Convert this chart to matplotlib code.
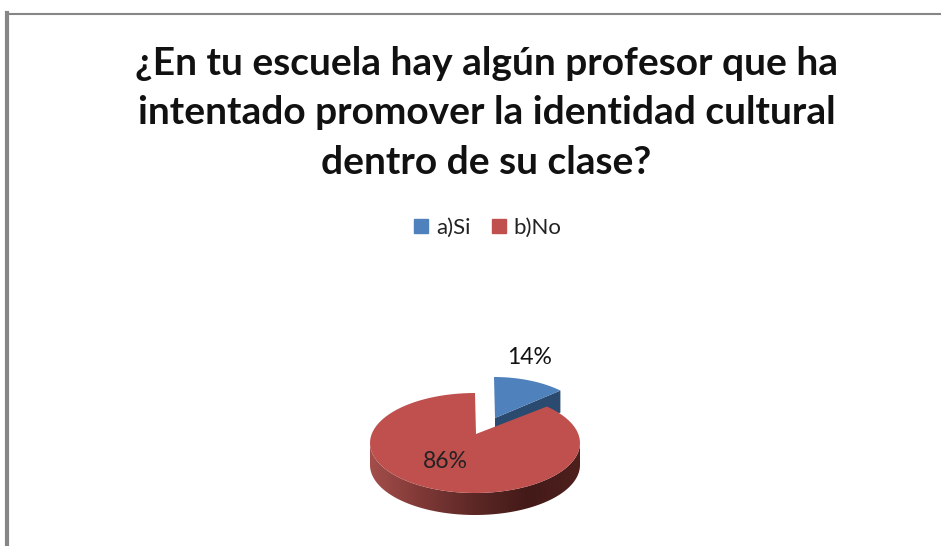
#!/usr/bin/env python3

import numpy as np
import matplotlib
matplotlib.use("Agg")
import matplotlib.pyplot as plt
from matplotlib.colors import LinearSegmentedColormap
from matplotlib.patches import Patch, Polygon

title = "¿En tu escuela hay algún profesor que ha\nintentado promover la identidad cultural\ndentro de su clase?"
categories = ["a)Si", "b)No"]
labels = ["14%", "86%"]
# share of the circle as the slices are actually drawn in the picture
drawn_share = [12, 88]
colors = ["#4f81bd", "#c0504d"]
blue_side = "#2b4a70"
red_side = ["#a34e4b", "#7e3836", "#5c2826", "#431a18", "#4e201d"]
border = "#868686"
font = "Lato"

#pixel helpers, ellipse of the pie top
cx, cy, rx, ry = 475, 443, 105, 50
apex = (476, 434)
depth = 22
blue_shift = (19, -16)
blue_rx = 97


def rim(a0, a1, x0=cx, y0=cy, w=rx):
    a = np.radians(np.linspace(a0, a1, 100))
    return np.column_stack([x0 + w * np.cos(a), y0 - ry * np.sin(a)])


fig = plt.figure(figsize=(9.41, 5.46), dpi=100)
ax = fig.add_axes([0, 0, 1, 1])
ax.set_xlim(0, 941)
ax.set_ylim(546, 0)
ax.axis("off")

# chart frame
ax.plot([7.5, 941], [13.5, 13.5], color=border, lw=1.5)
ax.plot([7.5, 7.5], [13, 546], color=border, lw=3)

ax.text(486.5, 113, title, ha="center", va="center", fontsize=28, fontweight="bold",
        family=font, color="#111111", linespacing=1.49)

angle = 360 * drawn_share[0] / sum(drawn_share)
end = 90 - angle

# blue slice, pulled out of the pie
bx, by = cx + blue_shift[0], cy + blue_shift[1]
b_apex = (apex[0] + blue_shift[0], apex[1] + blue_shift[1])
b_edge = rim(90, end, bx, by, blue_rx)
ax.add_patch(Polygon([b_apex, b_edge[-1], b_edge[-1] + [0, depth], [b_apex[0], b_apex[1] + depth]],
                     color=blue_side, lw=0))
ax.add_patch(Polygon(np.vstack([[b_apex], b_edge]), color=colors[0], lw=0))

# red slice side wall with a left to right gradient
front = rim(180, 360)
wall = np.vstack([front, front[::-1] + [0, depth]])
cmap = LinearSegmentedColormap.from_list("side", red_side)
im = ax.imshow(np.linspace(0, 1, 256)[None, :], cmap=cmap, aspect="auto",
               extent=[cx - rx, cx + rx, 546, 0], zorder=2)
clip = Polygon(wall, transform=ax.transData, fc="none", lw=0)
ax.add_patch(clip)
im.set_clip_path(clip)
ax.set_xlim(0, 941)
ax.set_ylim(546, 0)

# red slice top
r_edge = rim(end, end - 360 + angle)
ax.add_patch(Polygon(np.vstack([[apex], r_edge]), color=colors[1], lw=0, zorder=3))

ax.text(530, 358, labels[0], ha="center", va="center", fontsize=16.5, family=font, color="#111111", zorder=4)
ax.text(445, 461, labels[1], ha="center", va="center", fontsize=16.5, family=font, color="#222222", zorder=4)

handles = [Patch(color=c) for c in colors]
ax.legend(handles, categories, ncol=2, loc="center", bbox_to_anchor=(488 / 941, 1 - 228 / 546),
          frameon=False, prop={"family": font, "size": 16}, handlelength=0.63, handleheight=0.63,
          handletextpad=0.36, columnspacing=0.95, labelcolor="#222222")

fig.savefig("out.png", dpi=100)
plt.close(fig)
